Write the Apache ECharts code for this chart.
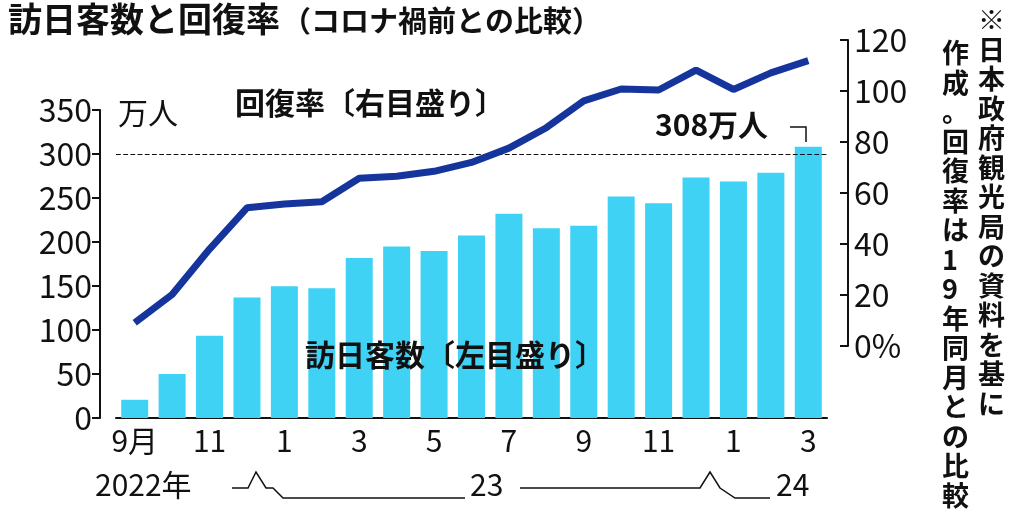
<!DOCTYPE html><html><head><meta charset="utf-8">
<script src="https://cdn.jsdelivr.net/npm/echarts@6/dist/echarts.min.js"></script>
<style>body{margin:0;background:#fff}#c{width:1024px;height:512px}</style></head><body><div id="c"></div>
<script>
const months=['9月','10','11','12','1','2','3','4','5','6','7','8','9','10','11','12','1','2','3'];
const visitors=[20.7,49.9,93.5,137.0,149.7,147.5,181.8,194.9,189.9,207.3,232.1,215.6,218.4,251.6,244.1,273.4,268.8,278.8,308.2];
const recovery=[9.1,20.2,38,54.2,55.7,56.6,65.8,66.6,68.5,72,77.6,85.6,96.1,100.8,100.4,108.2,100.6,107.1,111.9];
const F='"Noto Sans CJK JP"';
const chart=echarts.init(document.getElementById('c'));
const vtext=(s,x,y)=>({type:'text',z:100,left:x,top:y,style:{text:s.split('').join('\n'),font:'bold 27px '+F,fill:'#111',lineHeight:29.5,align:'center'}});
const T=(s,x,y,font)=>({type:'text',z:100,left:x,top:y,style:{text:s,font:font+' '+F,fill:'#111'}});
const L=(pts)=>({type:'polyline',z:100,shape:{points:pts},style:{stroke:'#111',lineWidth:1.5,fill:null}});
chart.setOption({
 animation:false,
 grid:[{left:116,width:711,top:110,bottom:94},{left:116,width:711,top:40,bottom:166}],
 xAxis:[{type:'category',data:months,gridIndex:0,
   axisLine:{lineStyle:{color:'#111',width:2}},
   axisTick:{length:8,lineStyle:{color:'#111',width:2}},
   axisLabel:{interval:1,color:'#111',fontSize:30,fontFamily:F,margin:8}},
  {type:'category',data:months,gridIndex:1,show:false}],
 yAxis:[{type:'value',gridIndex:0,min:0,max:350,interval:50,offset:16,
   axisLine:{show:true,lineStyle:{color:'#111',width:2}},
   axisTick:{show:true,length:8,lineStyle:{color:'#111',width:2}},
   splitLine:{show:false},
   axisLabel:{color:'#111',fontSize:32,fontFamily:F,margin:8}},
  {type:'value',gridIndex:1,position:'right',min:0,max:120,interval:20,offset:21,
   axisLine:{show:true,lineStyle:{color:'#111',width:2}},
   axisTick:{show:true,inside:true,length:8,lineStyle:{color:'#111',width:2}},
   splitLine:{show:false},
   axisLabel:{color:'#111',fontSize:32,fontFamily:F,margin:6,formatter:v=>v===0?'0%':v}}],
 series:[
  {type:'bar',data:visitors,xAxisIndex:0,yAxisIndex:0,barWidth:27,itemStyle:{color:'#3fd2f5'},
   markLine:{symbol:'none',silent:true,label:{show:false},lineStyle:{type:'dashed',color:'#111',width:1.2},data:[{yAxis:300}]}},
  {type:'line',data:recovery,xAxisIndex:1,yAxisIndex:1,symbol:'none',lineStyle:{color:'#16359c',width:7},z:5}
 ],
 graphic:[
  T('訪日客数と回復率',8,2,'bold 34px'),
  T('（コロナ禍前との比較）',282,6,'bold 29px'),
  T('万人',118,98,'30px'),
  T('回復率〔右目盛り〕',235,88,'bold 30px'),
  T('訪日客数〔左目盛り〕',305,340,'bold 30px'),
  T('308万人',655,110,'bold 30px'),
  L([[790,127],[806,127],[806,142]]),
  T('2022年',95,470,'30px'),
  L([[232,488],[248,488],[256,472],[266,488],[273,488],[283,498],[465,498]]),
  T('23',470,470,'30px'),
  L([[520,488],[700,488],[710,472],[720,488],[735,498],[770,498]]),
  T('24',776,470,'30px'),
  vtext('※日本政府観光局の資料を基に',978,5),
  vtext('作成。回復率は19年同月との比較',942,38)
 ]
});
</script></body></html>
